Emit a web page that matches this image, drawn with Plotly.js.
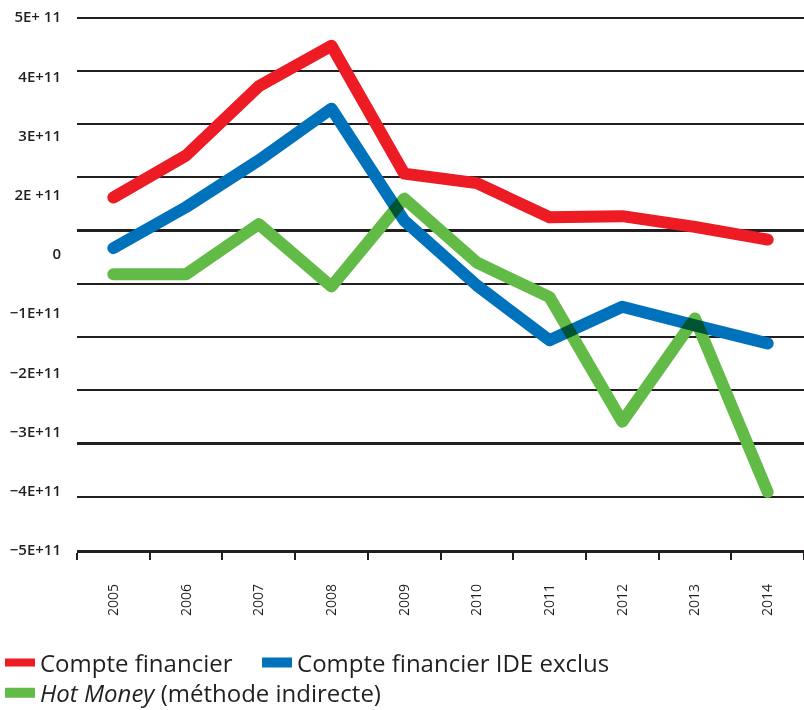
<!DOCTYPE html>
<html>
<head>
<meta charset="utf-8">
<script src="https://cdn.plot.ly/plotly-3.0.1.min.js"></script>
<style>
  html, body { margin: 0; padding: 0; background: #fff; }
  #chart { width: 804px; height: 710px; }
  .scatterlayer .js-line { mix-blend-mode: multiply; stroke-linecap: round; stroke-linejoin: round; }
  .legend .js-line { stroke-width: 8px !important; }
</style>
</head>
<body>
<div id="chart"></div>
<script>
// Categories
const years = ['2005','2006','2007','2008','2009','2010','2011','2012','2013','2014'];

// Series values
const compteFinancier = [1.62e11, 2.41e11, 3.71e11, 4.47e11, 2.07e11, 1.89e11, 1.25e11, 1.27e11, 1.07e11, 0.83e11];
const compteIDEExclus = [0.67e11, 1.44e11, 2.32e11, 3.29e11, 1.19e11, -0.03e11, -1.06e11, -0.43e11, -0.78e11, -1.12e11];
const hotMoney = [0.18e11, 0.18e11, 1.12e11, -0.05e11, 1.60e11, 0.40e11, -0.25e11, -2.59e11, -0.65e11, -3.91e11];

// Series names
const seriesNames = ['Compte financier', 'Compte financier IDE exclus', '<i>Hot Money</i> (méthode indirecte)'];

// Y tick labels as printed in the original
const yTickLabels = ['5E+ 11', '4E+11', '3E+11', '2E +11', '0', '\u22121E+11', '\u22122E+11', '\u22123E+11', '\u22124E+11', '\u22125E+11'];
const yTickSlots = [9, 8, 7, 6, 5, 4, 3, 2, 1, 0];

const colors = ['#ED1C24', '#0072BC', '#62BB46'];
const lineW = 12;

const traces = [
  { x: years, y: compteFinancier, name: seriesNames[0], type: 'scatter', mode: 'lines',
    line: { color: colors[0], width: lineW }, legend: 'legend' },
  { x: years, y: compteIDEExclus, name: seriesNames[1], type: 'scatter', mode: 'lines',
    line: { color: colors[1], width: lineW }, legend: 'legend3' },
  { x: years, y: hotMoney, name: seriesNames[2], type: 'scatter', mode: 'lines',
    line: { color: colors[2], width: lineW }, legend: 'legend2' },
  { x: [], y: [], yaxis: 'y2', showlegend: false, hoverinfo: 'skip', type: 'scatter', mode: 'lines' }
];

const legendFont = { size: 24, color: '#231f20', family: '"Open Sans", "Noto Sans", sans-serif' };
function mkLegend(x, y) {
  return {
    orientation: 'h', xref: 'container', yref: 'container',
    x: x, xanchor: 'left', y: y, yanchor: 'middle',
    font: legendFont, bgcolor: 'rgba(0,0,0,0)', itemwidth: 30
  };
}

const layout = {
  width: 804, height: 710,
  margin: { l: 77, r: 0, t: 16, b: 160 },
  paper_bgcolor: '#ffffff', plot_bgcolor: '#ffffff',
  font: { family: '"Open Sans", "Noto Sans", sans-serif', color: '#231f20' },
  showlegend: true,
  legend: mkLegend(0, 0.0662),
  legend3: mkLegend(0.3197, 0.0662),
  legend2: mkLegend(0, 0.0239),
  xaxis: {
    type: 'category', tickson: 'boundaries',
    ticks: 'outside', ticklen: 7, tickwidth: 2, tickcolor: '#231f20',
    showline: true, linecolor: '#231f20', linewidth: 2.5,
    showgrid: false, zeroline: false,
    tickangle: -90, tickfont: { size: 14, color: '#231f20' },
    ticklabelstandoff: 26,
    range: [-0.5, 9.5], fixedrange: true
  },
  yaxis: {
    range: [-5e11, 5.03e11], dtick: 1e11, tick0: 0,
    showgrid: true, gridcolor: '#231f20', gridwidth: 2.2,
    zeroline: false, showticklabels: false, ticks: '', showline: false,
    fixedrange: true
  },
  yaxis2: {
    overlaying: 'y', side: 'left', anchor: 'x',
    range: [0, 9.02], tickvals: yTickSlots, ticktext: yTickLabels,
    showgrid: false, zeroline: false, showline: false, ticks: '',
    tickfont: { size: 15, color: '#231f20', weight: 600 },
    ticklabelstandoff: 15,
    fixedrange: true
  }
};

Plotly.newPlot('chart', traces, layout, { displayModeBar: false, staticPlot: true });
</script>
</body>
</html>
